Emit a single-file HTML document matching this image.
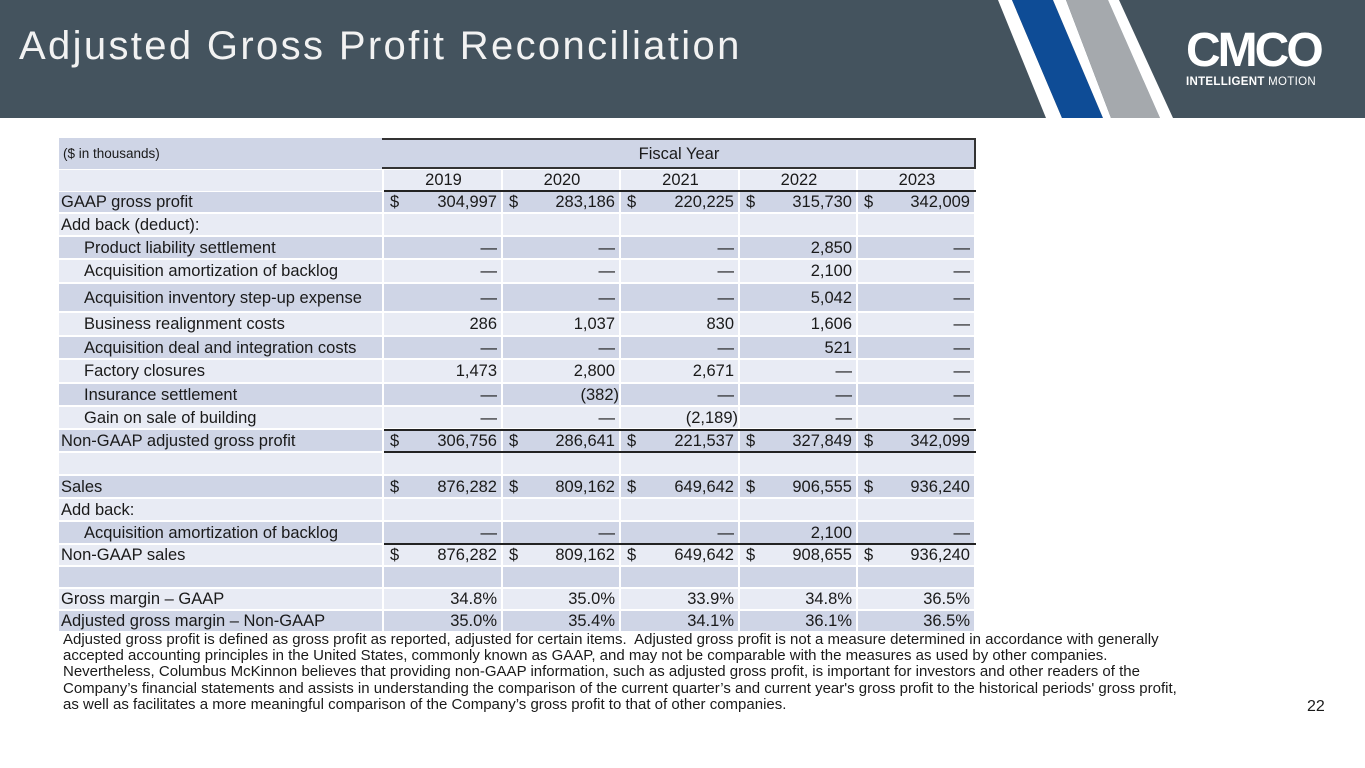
<!DOCTYPE html>
<html><head><meta charset="utf-8"><style>
*{margin:0;padding:0;box-sizing:border-box}
body{width:1365px;height:768px;background:#fff;position:relative;overflow:hidden;font-family:"Liberation Sans",Arial,sans-serif;color:#1a1a1a}
#hdr{position:absolute;left:0;top:0;width:1365px;height:118px;background:#44535e}
#title{position:absolute;left:19px;top:24px;font-size:40px;color:#f2f2f2;letter-spacing:2.35px}
.c{position:absolute;font-size:16.5px;line-height:1;white-space:nowrap}
#foot{position:absolute;left:63px;top:632px;width:1125px;font-size:15px;line-height:16.2px;color:#1a1a1a}
#pg{position:absolute;left:1307px;top:698px;font-size:16px}
</style></head><body>
<div id="hdr">
<svg width="1365" height="118" style="position:absolute;left:0;top:0">
<polygon points="998,0 1012,0 1062,118 1046,118" fill="#ffffff"/>
<polygon points="1012,0 1053,0 1103,118 1062,118" fill="#0e4c96"/>
<polygon points="1053,0 1066,0 1111,118 1103,118" fill="#ffffff"/>
<polygon points="1066,0 1108,0 1160,118 1111,118" fill="#a5a9ad"/>
<polygon points="1108,0 1119,0 1173,118 1160,118" fill="#ffffff"/>
</svg>
<div style="position:absolute;left:1186px;top:26px;width:140px;color:#fff">
<div style="font-size:48px;font-weight:bold;letter-spacing:-3px;line-height:50px;font-family:'Liberation Sans',sans-serif">CMCO</div>
<div style="font-size:11.5px;letter-spacing:0.3px;margin-top:0px;white-space:nowrap"><b>INTELLIGENT</b> MOTION</div>
</div>
<div id="title">Adjusted Gross Profit Reconciliation</div>
</div>
<div id="tbl"></div>
<div id="foot">Adjusted gross profit is defined as gross profit as reported, adjusted for certain items.&nbsp; Adjusted gross profit is not a measure determined in accordance with generally accepted accounting principles in the United States, commonly known as GAAP, and may not be comparable with the measures as used by other companies. Nevertheless, Columbus McKinnon believes that providing non-GAAP information, such as adjusted gross profit, is important for investors and other readers of the Company’s financial statements and assists in understanding the comparison of the current quarter’s and current year's gross profit to the historical periods' gross profit, as well as facilitates a more meaningful comparison of the Company’s gross profit to that of other companies.</div>
<div id="pg">22</div>
<script>
const years=["2019","2020","2021","2022","2023"];
const labels=["GAAP gross profit","Add back (deduct):","Product liability settlement","Acquisition amortization of backlog","Acquisition inventory step-up expense","Business realignment costs","Acquisition deal and integration costs","Factory closures","Insurance settlement","Gain on sale of building","Non-GAAP adjusted gross profit","","Sales","Add back:","Acquisition amortization of backlog","Non-GAAP sales","","Gross margin – GAAP","Adjusted gross margin – Non-GAAP"];
const indent=[0,0,1,1,1,1,1,1,1,1,0,0,0,0,1,0,0,0,0];
const dollar=[1,0,0,0,0,0,0,0,0,0,1,0,1,0,0,1,0,0,0];
const values=[
["304,997","283,186","220,225","315,730","342,009"],
[],
["—","—","—","2,850","—"],
["—","—","—","2,100","—"],
["—","—","—","5,042","—"],
["286","1,037","830","1,606","—"],
["—","—","—","521","—"],
["1,473","2,800","2,671","—","—"],
["—","(382)","—","—","—"],
["—","—","(2,189)","—","—"],
["306,756","286,641","221,537","327,849","342,099"],
[],
["876,282","809,162","649,642","906,555","936,240"],
[],
["—","—","—","2,100","—"],
["876,282","809,162","649,642","908,655","936,240"],
[],
["34.8%","35.0%","33.9%","34.8%","36.5%"],
["35.0%","35.4%","34.1%","36.1%","36.5%"]];
const rowTops=[192,214,237,260,284,313,337,360,384,407,430,453,476,499,522,545,567,589,611,633];
const T=document.getElementById('tbl');
const colX=[384,503,621,740,858,976];
const DARK="#cfd5e6",LIGHT="#e8ebf4";
function box(x,y,w,h,bg){const d=document.createElement('div');d.style.cssText=`position:absolute;left:${x}px;top:${y}px;width:${w}px;height:${h}px;background:${bg}`;T.appendChild(d);return d;}
function txt(s,x,y,align,w){const d=document.createElement('div');d.className='c';d.textContent=s;
if(align==='r'){d.style.left=(x-w)+'px';d.style.width=w+'px';d.style.textAlign='right';}
else if(align==='c'){d.style.left=(x-w/2)+'px';d.style.width=w+'px';d.style.textAlign='center';}
else d.style.left=x+'px';
d.style.top=(y-9)+'px';T.appendChild(d);return d;}
let h1=box(59,138,323,31,DARK);


let u=txt("($ in thousands)",63,156,'l');u.style.fontSize='13.5px';
let fy=box(382,138,594,31,DARK);fy.style.border='2px solid #333';fy.style.borderLeft='none';


txt("Fiscal Year",679,155,'c',200);
box(59,170,323,21,LIGHT);
years.forEach((y,i)=>{const b=box(colX[i],170,colX[i+1]-colX[i]-2,21,LIGHT);


txt(y,(colX[i]+colX[i+1])/2,181,'c',100);});
box(384,190,592,2,"#222");
labels.forEach((lab,r)=>{
const y0=rowTops[r],h=rowTops[r+1]-y0-2,bg=r%2===0?DARK:LIGHT,mid=y0+h/2+1;
const lb=box(59,y0,323,h,bg);


if(lab)txt(lab,indent[r]?84:61,mid,'l');
for(let i=0;i<5;i++){
const c=box(colX[i],y0,colX[i+1]-colX[i]-2,h,bg);


const v=values[r][i];
if(v){const paren=v.startsWith('(');txt(v,colX[i+1]-(paren?2:6),mid,'r',110);}
if(dollar[r])txt("$",colX[i]+6,mid,'l');}
});
box(384,429,592,2,"#222");
box(384,451,592,2,"#222");
box(384,543,592,2,"#222");
</script>
</body></html>
